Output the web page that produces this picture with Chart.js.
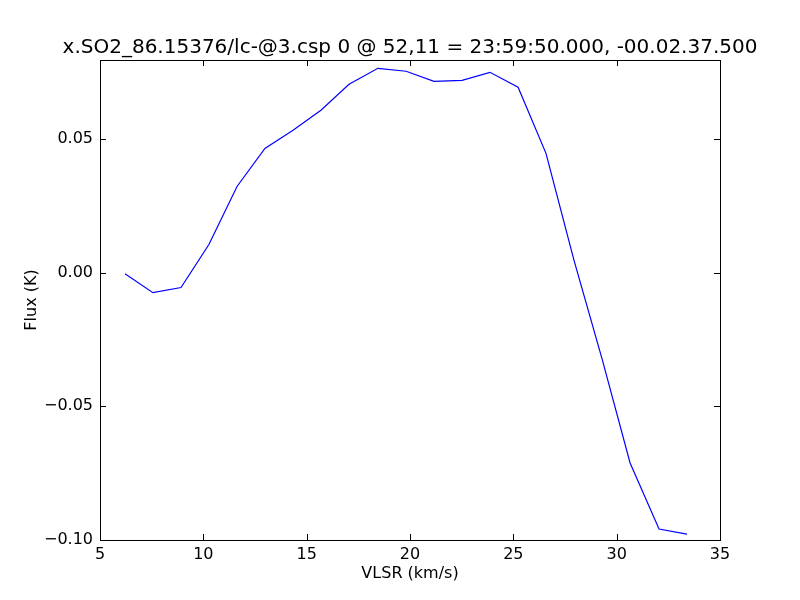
<!DOCTYPE html>
<html>
<head>
<meta charset="utf-8">
<script src="https://cdn.jsdelivr.net/npm/chart.js@4/dist/chart.umd.min.js"></script>
<style>
  body { margin: 0; background: #fff; }
  #wrap { width: 800px; height: 600px; }
</style>
</head>
<body>
<div id="wrap"><canvas id="chart" width="800" height="600"></canvas></div>
<script>
// velocidades (km/s) y flujo (K)
const vlsr = [6.21, 7.56, 8.92, 10.27, 11.63, 12.98, 14.34, 15.69, 17.05, 18.45, 19.81,
              21.16, 22.52, 23.87, 25.23, 26.58, 27.94, 29.29, 30.65, 32.05, 33.40]
const flux = [-0.0004, -0.0075, -0.0056, 0.0105, 0.0322, 0.0464, 0.0532, 0.0607, 0.0704, 0.0764, 0.0753,
              0.0715, 0.0719, 0.0749, 0.0693, 0.0446, 0.0045, -0.0322, -0.0712, -0.0959, -0.0978]
const xTicks = [5, 10, 15, 20, 25, 30, 35]
const yTicks = [-0.10, -0.05, 0.00, 0.05]
const titulo = "x.SO2_86.15376/lc-@3.csp 0 @ 52,11 = 23:59:50.000, -00.02.37.500"

const fuente = "'DejaVu Sans', sans-serif"

/* marco, marcas hacia adentro y titulo centrado sobre el area, estilo matplotlib */
const marcoPlugin = {
  id: 'marco',
  afterDatasetsDraw(chart) {
    const { ctx, chartArea: a, scales } = chart
    const largo = 6
    ctx.save()
    ctx.strokeStyle = '#000'
    ctx.lineWidth = 1
    ctx.beginPath()
    xTicks.forEach((v) => {
      const x = Math.round(scales.x.getPixelForValue(v)) + 0.5
      ctx.moveTo(x, a.bottom); ctx.lineTo(x, a.bottom - largo)
      ctx.moveTo(x, a.top); ctx.lineTo(x, a.top + largo)
    })
    yTicks.forEach((v) => {
      const y = Math.round(scales.y.getPixelForValue(v)) + 0.5
      ctx.moveTo(a.left, y); ctx.lineTo(a.left + largo, y)
      ctx.moveTo(a.right, y); ctx.lineTo(a.right - largo, y)
    })
    ctx.stroke()
    ctx.strokeRect(Math.round(a.left) + 0.5, Math.round(a.top) + 0.5,
      Math.round(a.right - a.left), Math.round(a.bottom - a.top))

    ctx.fillStyle = '#000'
    ctx.font = "20px " + fuente
    ctx.textAlign = 'center'
    ctx.textBaseline = 'alphabetic'
    ctx.fillText(titulo, (a.left + a.right) / 2, a.top - 7)
    ctx.restore()
  }
}

const data = {
  datasets: [{
    data: vlsr.map((v, i) => ({ x: v, y: flux[i] })),
    borderColor: '#0000ff',
    borderWidth: 1.2,
    pointRadius: 0,
    fill: false,
    tension: 0
  }]
}

const config = {
  type: 'line',
  data: data,
  options: {
    responsive: false,
    animation: false,
    layout: { padding: { left: 18, right: 80, top: 60, bottom: 13 } },
    plugins: {
      legend: { display: false },
      tooltip: { enabled: false },
      title: { display: false }
    },
    scales: {
      x: {
        type: 'linear',
        min: 5, max: 35,
        afterBuildTicks: (s) => { s.ticks = xTicks.map((v) => ({ value: v })) },
        afterFit: (s) => { s.height = 47 },
        grid: { display: false, drawTicks: false },
        border: { display: false },
        ticks: {
          color: '#000', padding: 5,
          font: { family: fuente, size: 16 },
          maxRotation: 0,
          callback: (v) => String(v)
        },
        title: {
          display: true, text: 'VLSR (km/s)', color: '#000',
          font: { family: fuente, size: 16 }, padding: { top: 4, bottom: 4 }
        }
      },
      y: {
        type: 'linear',
        min: -0.10, max: 0.0795,
        afterBuildTicks: (s) => { s.ticks = yTicks.map((v) => ({ value: v })) },
        afterFit: (s) => { s.width = 82 },
        grid: { display: false, drawTicks: false },
        border: { display: false },
        ticks: {
          color: '#000', padding: 7,
          font: { family: fuente, size: 16 },
          callback: (v) => v.toFixed(2).replace('-', '\u2212')
        },
        title: {
          display: true, text: 'Flux (K)', color: '#000',
          font: { family: fuente, size: 16 }, padding: { bottom: 4 }
        }
      }
    }
  },
  plugins: [marcoPlugin]
}

new Chart(document.getElementById('chart'), config)
</script>
</body>
</html>
